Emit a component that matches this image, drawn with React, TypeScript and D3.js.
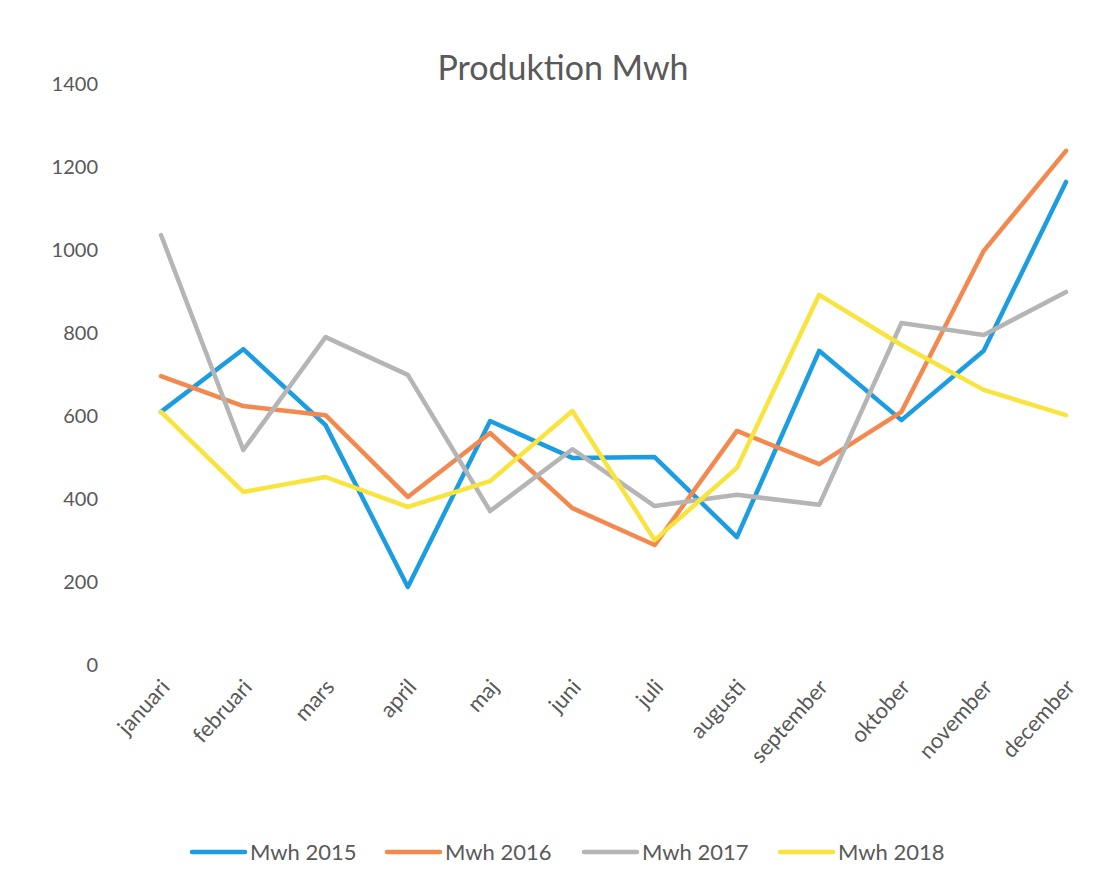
import * as d3 from 'd3';

const months = ['januari', 'februari', 'mars', 'april', 'maj', 'juni', 'juli', 'augusti', 'september', 'oktober', 'november', 'december'];
const mwh2015 = [610, 761, 578, 188, 588, 499, 501, 308, 757, 590, 757, 1164];
const mwh2016 = [696, 624, 602, 405, 559, 378, 289, 564, 484, 610, 998, 1239];
const mwh2017 = [1036, 518, 790, 699, 371, 520, 383, 410, 386, 824, 795, 899];
const mwh2018 = [610, 417, 453, 381, 443, 612, 301, 475, 892, 771, 663, 602];
const seriesNames = ['Mwh 2015', 'Mwh 2016', 'Mwh 2017', 'Mwh 2018'];
const seriesColors = ['#1c9de2', '#f4894f', '#b5b5b5', '#f8e43c'];
const yTicks = [0, 200, 400, 600, 800, 1000, 1200, 1400];

const W = 1096;
const H = 892;
const font = 'Lato, "Open Sans", sans-serif';
const textColor = '#595959';

export default function App() {
    const series = [mwh2015, mwh2016, mwh2017, mwh2018];
    const x = d3.scalePoint<string>().domain(months).range([161, 1066]);
    const y = d3.scaleLinear().domain([0, 1400]).range([665, 84]);

    const line = d3.line<number>()
        .x((_, i) => x(months[i])!)
        .y(d => y(d));

    // legend swatch start positions, as in the original
    const legendX = [192, 387, 584, 780];

    return (
        <svg width={W} height={H} style={{ position: 'absolute', left: 0, top: 0, background: '#fff' }}>
            <text x={563} y={80} textAnchor="middle" fontFamily={font} fontSize={34} fill={textColor}>
                Produktion Mwh
            </text>

            {yTicks.map(t => (
                <text key={t} x={98} y={y(t)} dy="0.35em" textAnchor="end" fontFamily={font} fontSize={20} fill={textColor}>
                    {t}
                </text>
            ))}

            {months.map(m => (
                <text key={m} transform={`translate(${x(m)! + 10},${688}) rotate(-48)`} textAnchor="end"
                    fontFamily={font} fontSize={22} fill={textColor}>
                    {m}
                </text>
            ))}

            {series.map((s, i) => (
                <path key={seriesNames[i]} d={line(s) ?? ''} fill="none" stroke={seriesColors[i]}
                    strokeWidth={4.5} strokeLinejoin="round" strokeLinecap="round" />
            ))}

            {seriesNames.map((name, i) => (
                <g key={name} transform={`translate(${legendX[i]},852)`}>
                    <line x1={0} x2={53} y1={0} y2={0} stroke={seriesColors[i]} strokeWidth={4.5} strokeLinecap="round" />
                    <text x={58} y={0} dy="0.35em" fontFamily={font} fontSize={22} fill={textColor}>{name}</text>
                </g>
            ))}
        </svg>
    );
}
